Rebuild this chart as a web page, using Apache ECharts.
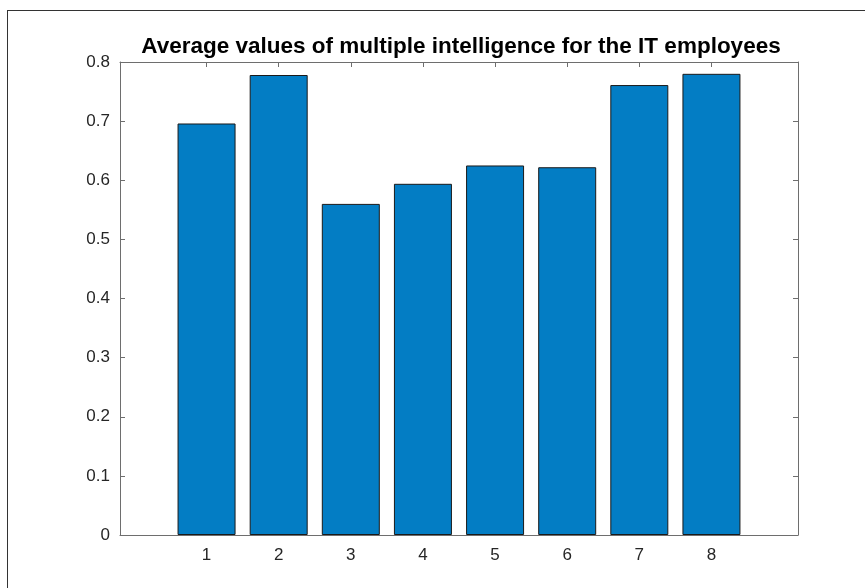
<!DOCTYPE html>
<html>
<head>
<meta charset="utf-8">
<script src="https://cdn.jsdelivr.net/npm/echarts@6/dist/echarts.min.js"></script>
<style>
  html, body { margin: 0; padding: 0; background: #fff; }
  #chart { width: 865px; height: 588px; }
</style>
</head>
<body>
<div id="chart"></div>
<script>
  // data
  var categories = [1, 2, 3, 4, 5, 6, 7, 8]
  var values = [0.696, 0.778, 0.560, 0.594, 0.625, 0.622, 0.761, 0.780]
  var yTicks = [0, 0.1, 0.2, 0.3, 0.4, 0.5, 0.6, 0.7, 0.8]
  var title = 'Average values of multiple intelligence for the IT employees'

  var axisColor = '#6e6e6e'
  var labelColor = '#262626'
  var font = 'Liberation Sans, Arial, sans-serif'

  var barData = categories.map(function (c, i) { return [c, values[i]] })

  function xAxisOf(pos, showLabel) {
    return {
      type: 'value',
      position: pos,
      min: -0.2,
      max: 9.2,
      axisLine: { show: true, onZero: false, lineStyle: { color: axisColor, width: 1 } },
      axisTick: { show: true, inside: true, length: 5, customValues: categories, lineStyle: { color: axisColor } },
      axisLabel: {
        show: showLabel, customValues: categories, margin: 12,
        color: labelColor, fontSize: 17, fontFamily: font
      },
      splitLine: { show: false }
    }
  }

  function yAxisOf(pos, showLabel) {
    return {
      type: 'value',
      position: pos,
      min: 0,
      max: 0.8,
      interval: 0.1,
      axisLine: { show: true, onZero: false, lineStyle: { color: axisColor, width: 1 } },
      axisTick: { show: true, inside: true, length: 5, lineStyle: { color: axisColor } },
      axisLabel: {
        show: showLabel, margin: 10,
        color: labelColor, fontSize: 17, fontFamily: font,
        formatter: function (v) { return yTicks.indexOf(Math.round(v * 10) / 10) >= 0 ? String(Math.round(v * 10) / 10) : '' }
      },
      splitLine: { show: false }
    }
  }

  var chart = echarts.init(document.getElementById('chart'), null, { renderer: 'canvas' })
  chart.setOption({
    animation: false,
    backgroundColor: '#ffffff',
    title: {
      text: title,
      left: 456,
      textAlign: 'center',
      top: 30,
      textStyle: { color: '#000', fontSize: 22.5, fontWeight: 'bold', fontFamily: font }
    },
    grid: { left: 120, right: 67, top: 62, bottom: 53, containLabel: false },
    xAxis: [xAxisOf('bottom', true), xAxisOf('top', false)],
    yAxis: [yAxisOf('left', true), yAxisOf('right', false)],
    graphic: [
      { type: 'line', shape: { x1: 7, y1: 10.5, x2: 865, y2: 10.5 }, style: { stroke: '#333', lineWidth: 1 } },
      { type: 'line', shape: { x1: 7.5, y1: 10, x2: 7.5, y2: 588 }, style: { stroke: '#333', lineWidth: 1 } }
    ],
    series: [{
      type: 'bar',
      xAxisIndex: 0,
      yAxisIndex: 0,
      barWidth: 58,
      data: barData,
      itemStyle: { color: '#037dc4', borderColor: '#1a1a1a', borderWidth: 1 }
    }]
  })
</script>
</body>
</html>
